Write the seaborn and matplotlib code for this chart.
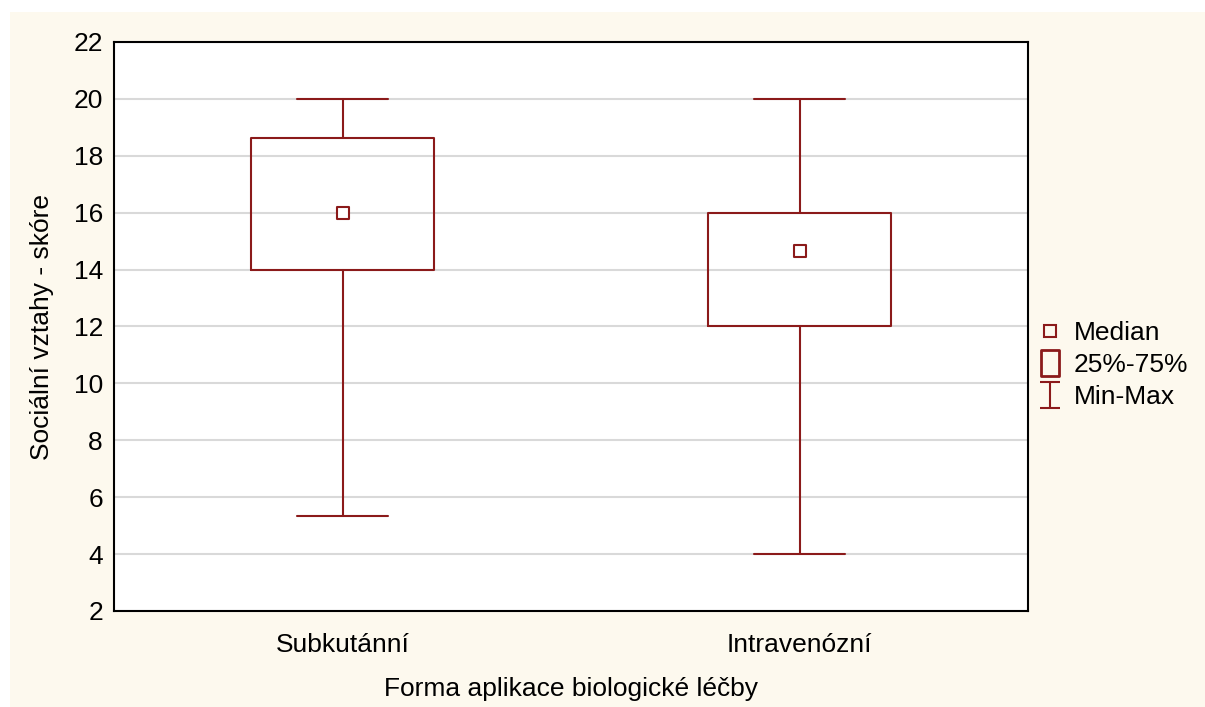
import matplotlib
matplotlib.use("Agg")
import matplotlib.pyplot as plt
import seaborn as sns
import pandas as pd
from matplotlib.lines import Line2D
from matplotlib.path import Path
from matplotlib.patches import Rectangle

# summary values
groups = ["Subkutánní", "Intravenózní"]
minimum = [5.33, 4.0]
q1 = [14.0, 12.0]
median = [16.0, 14.67]
q3 = [18.63, 16.0]
maximum = [20.0, 20.0]

dark_red = "#8b1a1a"
cream = "#fdf9ee"

sns.set_theme(style="white")
plt.rcParams["font.family"] = ["Liberation Sans", "DejaVu Sans"]
plt.rcParams["text.color"] = "black"

fig = plt.figure(figsize=(12.05, 7.07), dpi=100)
fig.patch.set_facecolor("white")
fig.patches.append(Rectangle((10 / 1205, 0), 1, 1 - 12 / 707, transform=fig.transFigure,
                             facecolor=cream, edgecolor="none", zorder=-10))
ax = fig.add_axes([114 / 1205, 1 - 611 / 707, 914 / 1205, 569 / 707])
ax.set_facecolor("white")

stats = [
    {"whislo": minimum[i], "q1": q1[i], "med": median[i], "q3": q3[i],
     "whishi": maximum[i], "fliers": [], "label": g}
    for i, g in enumerate(groups)
]
ax.bxp(stats, positions=range(len(groups)), widths=0.4, showfliers=False,
       boxprops=dict(color=dark_red, linewidth=1.5),
       whiskerprops=dict(color=dark_red, linewidth=1.5),
       capprops=dict(color=dark_red, linewidth=1.5),
       medianprops=dict(linewidth=0), capwidths=0.2)

df = pd.DataFrame({"group": groups, "median": median, "pos": range(len(groups))})
sns.scatterplot(data=df, x="pos", y="median", marker="s", s=80, facecolor="white",
                edgecolor=dark_red, linewidth=1.5, ax=ax, zorder=5)

ax.set_xlim(-0.5, 1.5)
ax.set_ylim(2, 22)
ax.set_yticks(range(2, 23, 2))
ax.set_xticks(range(len(groups)))
ax.set_xticklabels(groups)
ax.yaxis.grid(True, color="#d9d9d9", linewidth=1.5)
ax.set_axisbelow(True)
for s in ax.spines.values():
    s.set_color("black")
    s.set_linewidth(1.5)
ax.tick_params(axis="both", direction="in", length=5, width=1, colors="black",
               labelsize=19, pad=8)
ax.tick_params(axis="x", pad=16)
ax.set_xlabel("Forma aplikace biologické léčby", fontsize=19, color="black", labelpad=14)
ax.set_ylabel("Sociální vztahy - skóre", fontsize=19, color="black", labelpad=14)

# legend symbols: small median square, tall box, min-max bar
ibar = Path([(-0.75, 1), (0.75, 1), (0, 1), (0, -1), (-0.75, -1), (0.75, -1)],
            [Path.MOVETO, Path.LINETO, Path.MOVETO, Path.LINETO, Path.MOVETO, Path.LINETO])
tallbox = Path([(-0.67, -1), (0.67, -1), (0.67, 1), (-0.67, 1), (-0.67, -1)],
               [Path.MOVETO, Path.LINETO, Path.LINETO, Path.LINETO, Path.CLOSEPOLY])
handles = [
    Line2D([], [], linestyle="none", marker="s", markersize=9, markerfacecolor="none",
           markeredgecolor=dark_red, markeredgewidth=1.5),
    Line2D([], [], linestyle="none", marker=tallbox, markersize=19, markerfacecolor="none",
           markeredgecolor=dark_red, markeredgewidth=2),
    Line2D([], [], linestyle="none", marker=ibar, markersize=19, markerfacecolor="none",
           markeredgecolor=dark_red, markeredgewidth=1.5),
]
fig.legend(handles, ["Median", "25%-75%", "Min-Max"], loc="center left",
           bbox_to_anchor=(1026 / 1205, 1 - 365 / 707), frameon=False, fontsize=19,
           handlelength=1.0, handletextpad=0.4, labelspacing=0.3, borderaxespad=0)

fig.savefig("out.png", dpi=100, facecolor=fig.get_facecolor())
